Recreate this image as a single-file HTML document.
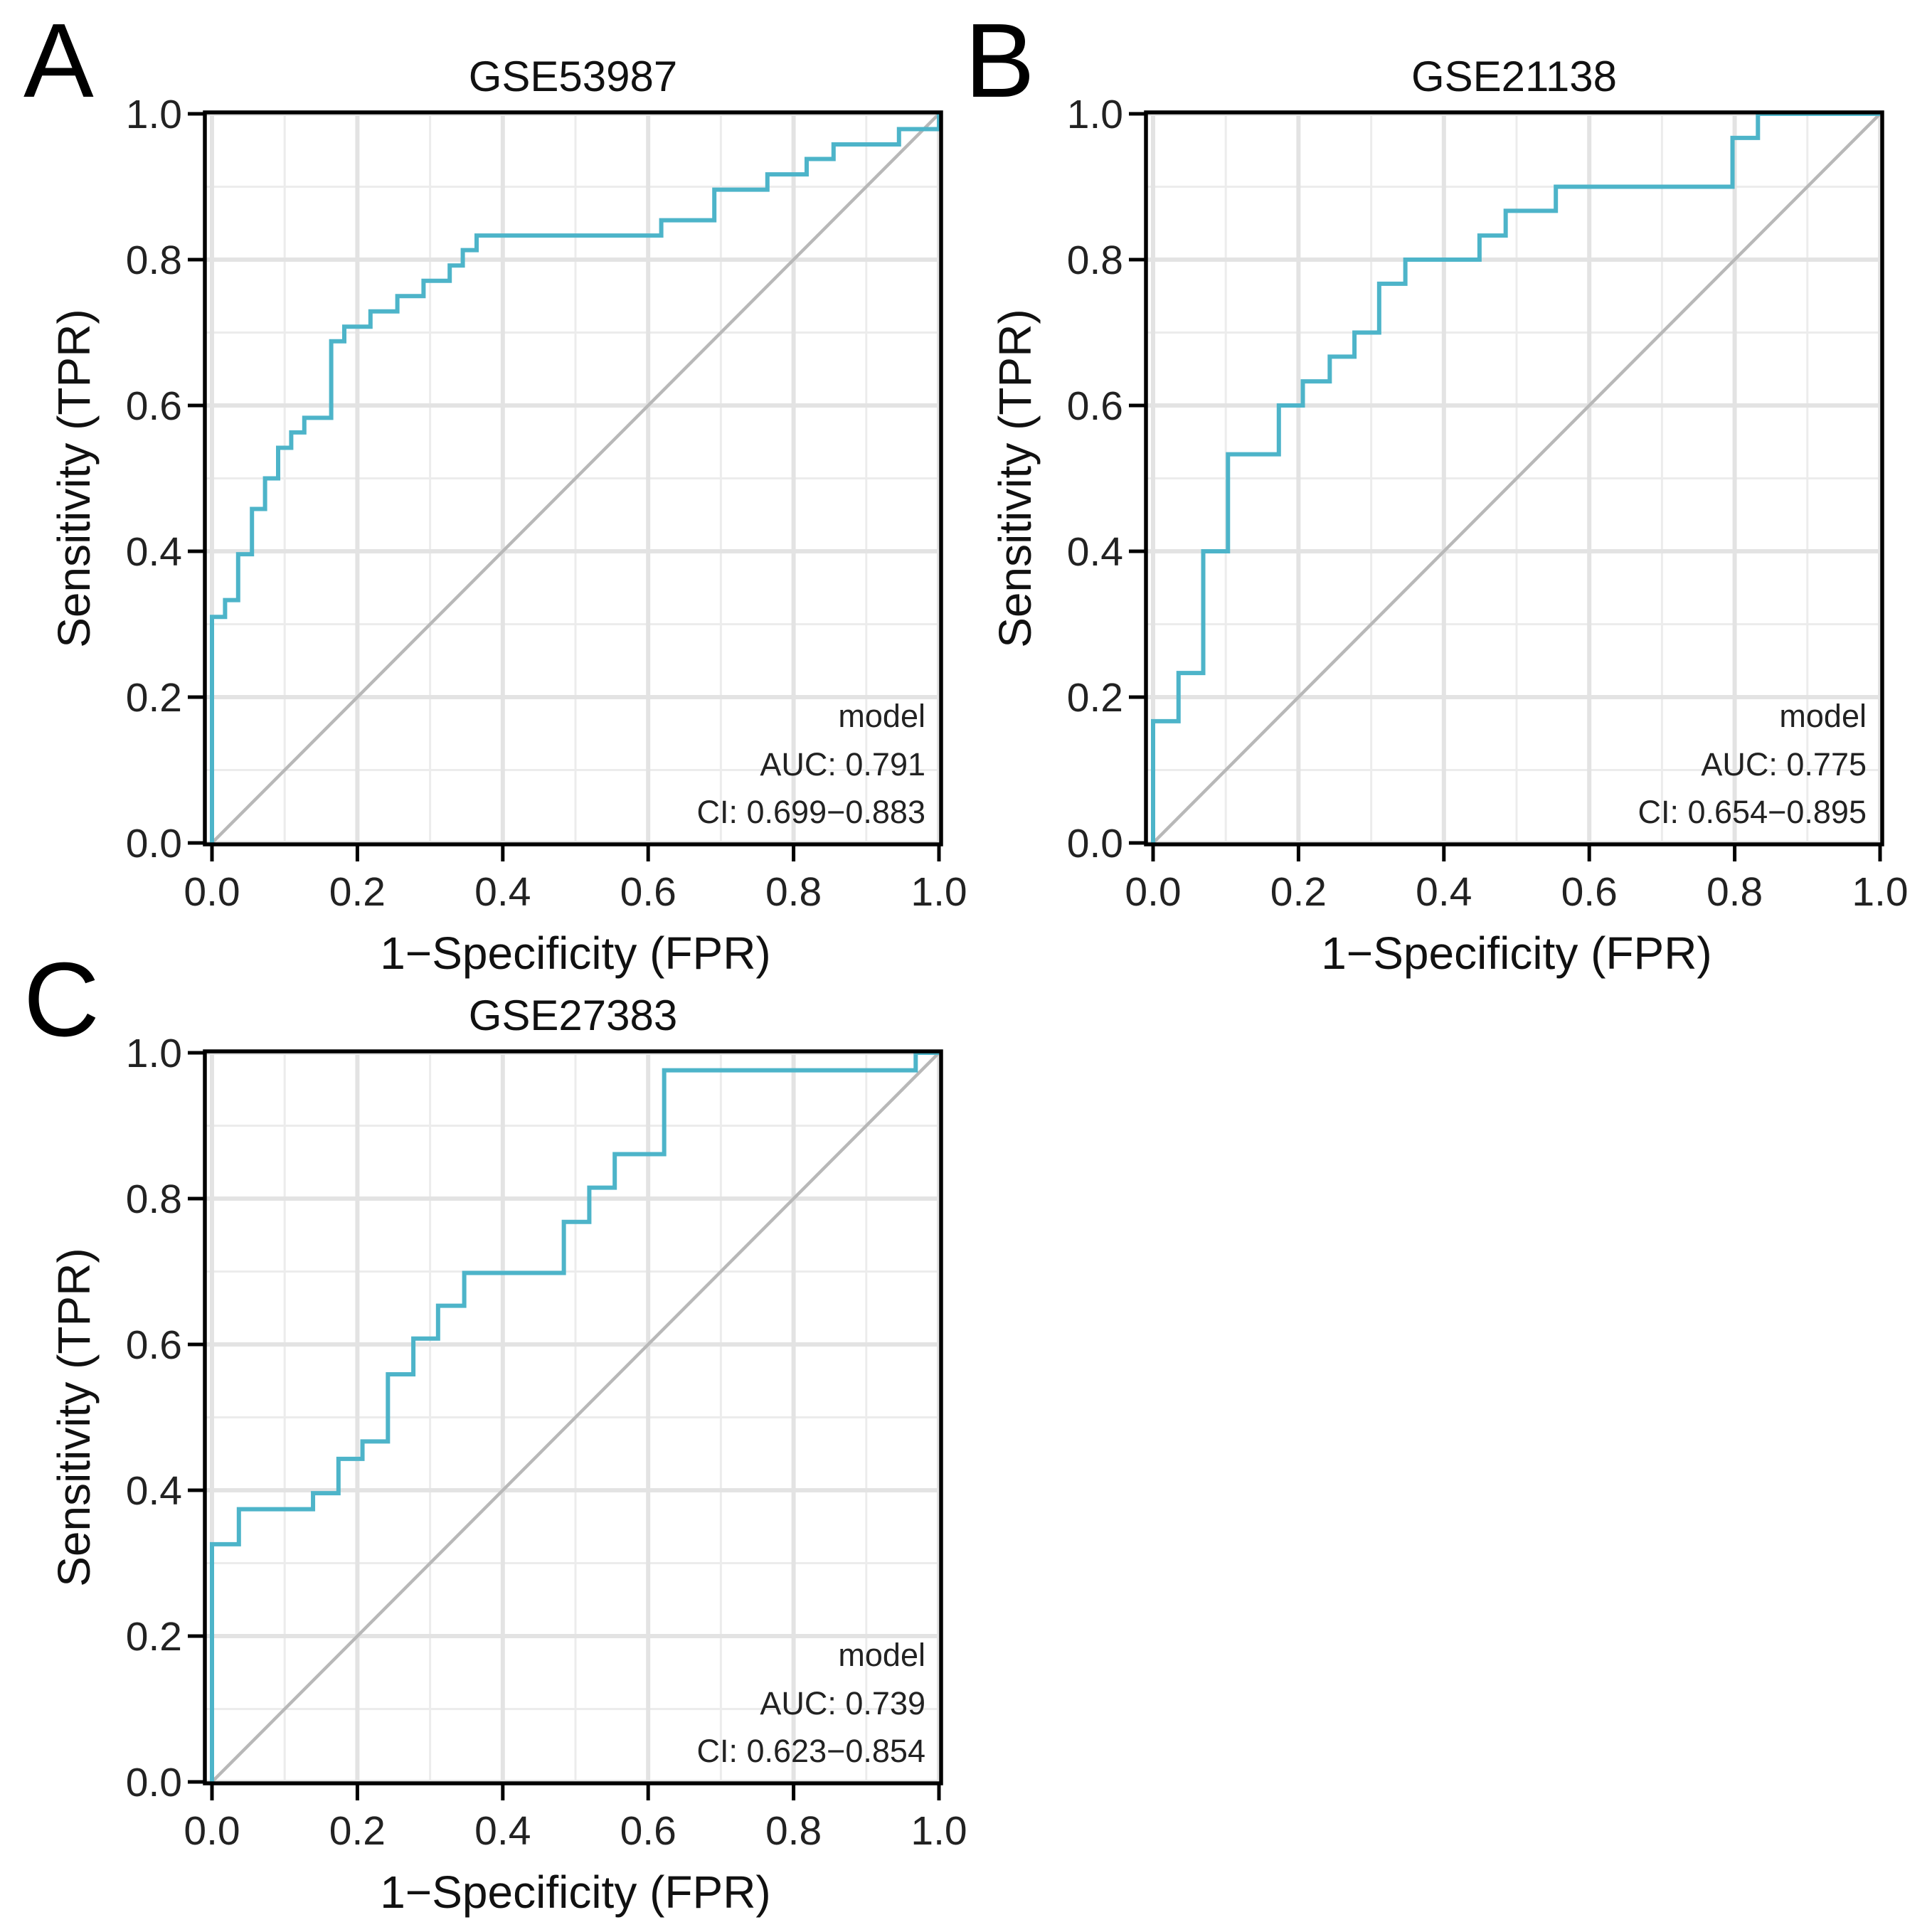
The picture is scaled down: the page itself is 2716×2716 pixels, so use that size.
<!DOCTYPE html>
<html><head><meta charset="utf-8"><style>
html,body{margin:0;padding:0;background:#fff}
svg{display:block;font-family:"Liberation Sans",Arial,sans-serif}
</style></head><body>
<svg id="fig" width="2716" height="2716" viewBox="0 0 2716 2716" xmlns="http://www.w3.org/2000/svg">
<rect width="2716" height="2716" fill="#fff"/>
</svg>
<script>
const fprA=[0,0.018,0.036,0.055,0.073,0.091,0.109,0.127,0.164,0.182,0.218,0.255,0.291,0.327,0.345,0.364,0.618,0.691,0.764,0.818,0.855,0.945,1];
const tprA=[0.31,0.333,0.396,0.458,0.5,0.542,0.563,0.583,0.688,0.708,0.729,0.75,0.771,0.792,0.813,0.833,0.854,0.896,0.917,0.938,0.958,0.979,1];
const fprB=[0,0.035,0.069,0.103,0.173,0.206,0.243,0.277,0.311,0.347,0.449,0.485,0.554,0.797,0.832,1];
const tprB=[0.167,0.233,0.4,0.533,0.6,0.633,0.667,0.7,0.767,0.8,0.833,0.867,0.9,0.967,1,1];
const fprC=[0,0.037,0.139,0.174,0.207,0.242,0.277,0.311,0.347,0.484,0.519,0.554,0.622,0.968,1];
const tprC=[0.326,0.374,0.396,0.443,0.467,0.559,0.608,0.653,0.698,0.768,0.815,0.861,0.976,1,1];
const tickVals=[0,0.2,0.4,0.6,0.8,1];
const tickLabels=["0.0","0.2","0.4","0.6","0.8","1.0"];
const minorVals=[0.1,0.3,0.5,0.7,0.9];
const titles=["GSE53987","GSE21138","GSE27383"];
const letters=["A","B","C"];
const aucs=["AUC: 0.791","AUC: 0.775","AUC: 0.739"];
const cis=["CI: 0.699\u22120.883","CI: 0.654\u22120.895","CI: 0.623\u22120.854"];

const svg=document.getElementById('fig');
const NS='http://www.w3.org/2000/svg';
function mk(tag,attrs,parent,text){const e=document.createElementNS(NS,tag);for(const k in attrs)e.setAttribute(k,attrs[k]);if(text!==undefined)e.textContent=text;parent.appendChild(e);return e;}

function panel(i,dx,dy,fpr,tpr){
  const g=mk('g',{},svg);
  
  
  const L=288+dx,R=1323+dx,T=158+dy,B=1187+dy;
  const X0=298+dx,X1=1320+dx,Y0=1185+dy,Y1=160+dy;
  const sx=v=>X0+v*(X1-X0), sy=v=>Y0-v*(Y0-Y1);
  for(const v of minorVals){
    const a=mk('line',{x1:sx(v),x2:sx(v),y1:T,y2:B,stroke:'#ececec','stroke-width':3},g);
    
    
    const b=mk('line',{x1:L,x2:R,y1:sy(v),y2:sy(v),stroke:'#ececec','stroke-width':3},g);
    
    
  }
  tickVals.forEach((v,k)=>{
    const a=mk('line',{x1:sx(v),x2:sx(v),y1:T,y2:B,stroke:'#e3e3e3','stroke-width':6},g);
    
    
    const b=mk('line',{x1:L,x2:R,y1:sy(v),y2:sy(v),stroke:'#e3e3e3','stroke-width':6},g);
    
    
    const t1=mk('line',{x1:sx(v),x2:sx(v),y1:B,y2:B+24,stroke:'#000','stroke-width':5},g);
    
    
    const t2=mk('line',{x1:L-24,x2:L,y1:sy(v),y2:sy(v),stroke:'#000','stroke-width':5},g);
    
    
    const xl=mk('text',{x:sx(v),y:B+86,'font-size':57,'text-anchor':'middle',fill:'#222'},g,tickLabels[k]);
    
    
    const yl=mk('text',{x:L-32,y:sy(v)+20,'font-size':57,'text-anchor':'end',fill:'#222'},g,tickLabels[k]);
    
    
  });
  const d=mk('line',{x1:sx(0),y1:sy(0),x2:sx(1),y2:sy(1),stroke:'#b8b8b8','stroke-width':4.5},g);
  
  
  let p='M'+sx(0)+','+sy(0);
  for(let k=0;k<fpr.length;k++){p+=' H'+sx(fpr[k])+' V'+sy(tpr[k]);}
  const c=mk('path',{d:p,fill:'none',stroke:'#4db4c9','stroke-width':6,'stroke-linejoin':'miter'},g);
  
  
  const fr=mk('rect',{x:L,y:T,width:R-L,height:B-T,fill:'none',stroke:'#000','stroke-width':5.5},g);
  
  
  const ann=[['model',1022],[aucs[i],1090],[cis[i],1157]];
  const an=['legend-model','auc-label','ci-label'];
  ann.forEach((a,k)=>{
    const t=mk('text',{x:1301+dx,y:a[1]+dy,'font-size':45,'text-anchor':'end',fill:'#222'},g,a[0]);
    
    
  });
  const xt=mk('text',{x:(X0+X1)/2,y:1362+dy,'font-size':64,'text-anchor':'middle',fill:'#111'},g,'1\u2212Specificity (FPR)');
  
  
  const cy=(T+B)/2;
  const yt=mk('text',{x:126+dx,y:cy,'font-size':64,'text-anchor':'middle',fill:'#111',transform:'rotate(-90 '+(126+dx)+' '+cy+')'},g,'Sensitivity (TPR)');
  
  
  const ti=mk('text',{x:(L+R)/2,y:128+dy,'font-size':60,'text-anchor':'middle',fill:'#111'},g,titles[i]);
  
  
  const le=mk('text',{x:33+dx,y:136+dy,'font-size':148,fill:'#000'},g,letters[i]);
  
  
}
panel(0,0,0,fprA,tprA);
panel(1,1323,0,fprB,tprB);
panel(2,0,1320,fprC,tprC);
</script>
</body></html>
